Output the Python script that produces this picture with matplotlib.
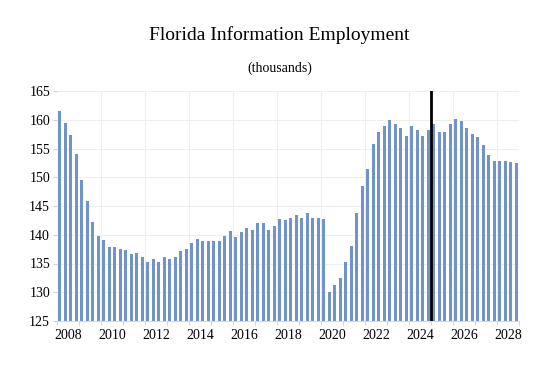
import numpy as np
import matplotlib
matplotlib.use("Agg")
import matplotlib.pyplot as plt

plt.rcParams["font.family"] = ["Liberation Serif", "DejaVu Serif"]

# quarterly, 2008Q1 .. 2028Q4 (thousands)
values = [
    161.6, 159.5, 157.3, 154.0, 149.6, 145.9, 142.3, 139.7,   # 2008-2009
    139.1, 137.9, 137.8, 137.6, 137.4, 136.7, 136.8, 136.1,   # 2010-2011
    135.3, 135.8, 135.3, 136.1, 135.8, 136.1, 137.1, 137.5,   # 2012-2013
    138.6, 139.2, 138.9, 138.9, 138.9, 138.9, 139.8, 140.7,   # 2014-2015
    139.6, 140.4, 141.1, 140.8, 142.0, 142.1, 140.9, 141.5,   # 2016-2017
    142.7, 142.5, 143.0, 143.4, 142.9, 143.8, 142.9, 142.9,   # 2018-2019
    142.7, 130.1, 131.3, 132.4, 135.3, 138.0, 143.7, 148.5,   # 2020-2021
    151.5, 155.7, 157.9, 158.9, 160.0, 159.3, 158.6, 157.1,   # 2022-2023
    159.0, 158.2, 157.2, 158.2, 159.2, 157.9, 157.9, 159.2,   # 2024-2025
    160.2, 159.7, 158.5, 157.6, 157.0, 155.6, 153.9, 152.9,   # 2026-2027
    152.8, 152.8, 152.7, 152.4,                               # 2028
]
year_labels = [str(y) for y in range(2008, 2029, 2)]
forecast_split = 67.5   # between 2024Q4 and 2025Q1

x = np.arange(len(values))

fig = plt.figure(figsize=(5.59, 3.68), dpi=100)
ax = fig.add_axes([57 / 559, 1 - 321 / 368, (519 - 57) / 559, (321 - 91) / 368])

ax.bar(x, values, width=0.55, color="#7093cb", zorder=2)
ax.axvline(forecast_split, color="black", lw=2.0, zorder=3)

ax.set_ylim(125, 165)
ax.set_yticks(range(125, 166, 5))
ax.set_xlim(-0.5, len(values) - 0.5)

# year labels centred on each even year, grid at 2-year boundaries
ax.set_xticks([1.5 + 8 * i for i in range(len(year_labels))])
ax.set_xticklabels(year_labels)
ax.set_xticks(np.arange(-0.5, len(values), 4), minor=True)
ax.tick_params(axis="x", which="major", length=0, labelsize=10, pad=6)
ax.tick_params(axis="x", which="minor", length=3, color="#d0d0d0")
ax.tick_params(axis="y", length=3, color="#d0d0d0", labelsize=10, pad=2)

for v in np.arange(-0.5 + 8, len(values), 8):
    ax.axvline(v, color="#eeeeee", lw=0.8, zorder=0)
ax.grid(axis="y", color="#eeeeee", lw=0.8, zorder=0)
for s in ax.spines.values():
    s.set_visible(False)
ax.spines["bottom"].set_visible(True)
ax.spines["bottom"].set_color("#d9d9d9")
ax.spines["bottom"].set_linewidth(0.8)

fig.text(0.5, 1 - 35 / 368, "Florida Information Employment", ha="center", va="center",
         fontsize=14)
fig.text(0.5, 1 - 68 / 368, "(thousands)", ha="center", va="center", fontsize=10)

fig.savefig("out.png", dpi=100)
